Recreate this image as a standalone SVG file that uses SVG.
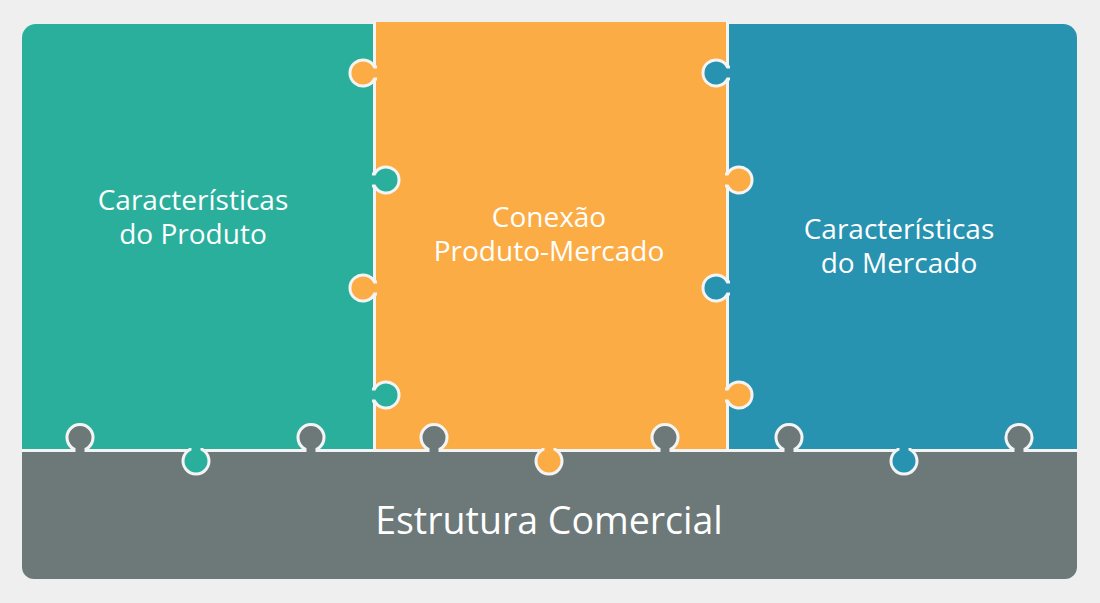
<svg xmlns="http://www.w3.org/2000/svg" width="1100" height="603" viewBox="0 0 1100 603">
  <style>
    .lbl { font-family: "Open Sans", "Noto Sans", "Liberation Sans", sans-serif; fill: #ffffff; text-anchor: middle; }
    .mid { font-size: 28px; }
    .big { font-size: 37.5px; }
    .knob { stroke: #f4f4f4; stroke-width: 3; }
    .teal { fill: #2aaf9d; }
    .orange { fill: #fcac45; }
    .blue { fill: #2793b0; }
    .grey { fill: #6d7879; }
    .seam { stroke: #f4f4f4; stroke-width: 3; fill: none; }
  </style>
  <rect width="1100" height="603" fill="#efefef"/>

  <g id="caracteristicas-produto">
    <path class="teal" d="M22,38 A14,14 0 0 1 36,24 H374 V451 H22 Z"/>
    <text class="lbl mid" x="193" y="210"><tspan x="193">Características</tspan><tspan x="193" dy="34">do Produto</tspan></text>
  </g>
  <g id="conexao-produto-mercado">
    <rect class="orange" x="374" y="22" width="353" height="429"/>
    <text class="lbl mid" x="549" y="227"><tspan x="549">Conexão</tspan><tspan x="549" dy="34">Produto-Mercado</tspan></text>
  </g>
  <g id="caracteristicas-mercado">
    <path class="blue" d="M727,24 H1063 A14,14 0 0 1 1077,38 V451 H727 Z"/>
    <text class="lbl mid" x="899" y="239"><tspan x="899">Características</tspan><tspan x="899" dy="34">do Mercado</tspan></text>
  </g>
  <g id="estrutura-comercial">
    <path class="grey" d="M22,451 H1077 V567 A12,12 0 0 1 1065,579 H34 A12,12 0 0 1 22,567 Z"/>
    <text class="lbl big" x="549" y="534">Estrutura Comercial</text>
  </g>

  <g id="connectors">
    <path class="seam" d="M374.5,22 V451 M727.5,22 V451 M22,450.5 H1077"/>
  </g>

  <g id="knobs-produto">
    <path class="knob teal" d="M372,174 H374.5 A13,13 0 1 1 374.5,186 H372"/>
    <path class="knob teal" d="M372,389 H374.5 A13,13 0 1 1 374.5,401 H372"/>
    <path class="knob teal" d="M190,448 V449.5 A13,13 0 1 0 202,449.5 V448"/>
  </g>
  <g id="knobs-conexao">
    <path class="knob orange" d="M377,67 H374.5 A13,13 0 1 0 374.5,79 H377"/>
    <path class="knob orange" d="M377,282 H374.5 A13,13 0 1 0 374.5,294 H377"/>
    <path class="knob orange" d="M725,174 H727.5 A13,13 0 1 1 727.5,186 H725"/>
    <path class="knob orange" d="M725,389 H727.5 A13,13 0 1 1 727.5,401 H725"/>
    <path class="knob orange" d="M543,448 V449.5 A13,13 0 1 0 555,449.5 V448"/>
  </g>
  <g id="knobs-mercado">
    <path class="knob blue" d="M730,67 H727.5 A13,13 0 1 0 727.5,79 H730"/>
    <path class="knob blue" d="M730,282 H727.5 A13,13 0 1 0 727.5,294 H730"/>
    <path class="knob blue" d="M898,448 V449.5 A13,13 0 1 0 910,449.5 V448"/>
  </g>
  <g id="knobs-estrutura">
    <path class="knob grey" d="M74,452 V449 A13,13 0 1 1 86,449 V452"/>
    <path class="knob grey" d="M305,452 V449 A13,13 0 1 1 317,449 V452"/>
    <path class="knob grey" d="M428,452 V449 A13,13 0 1 1 440,449 V452"/>
    <path class="knob grey" d="M659,452 V449 A13,13 0 1 1 671,449 V452"/>
    <path class="knob grey" d="M783,452 V449 A13,13 0 1 1 795,449 V452"/>
    <path class="knob grey" d="M1013,452 V449 A13,13 0 1 1 1025,449 V452"/>
  </g>
</svg>
